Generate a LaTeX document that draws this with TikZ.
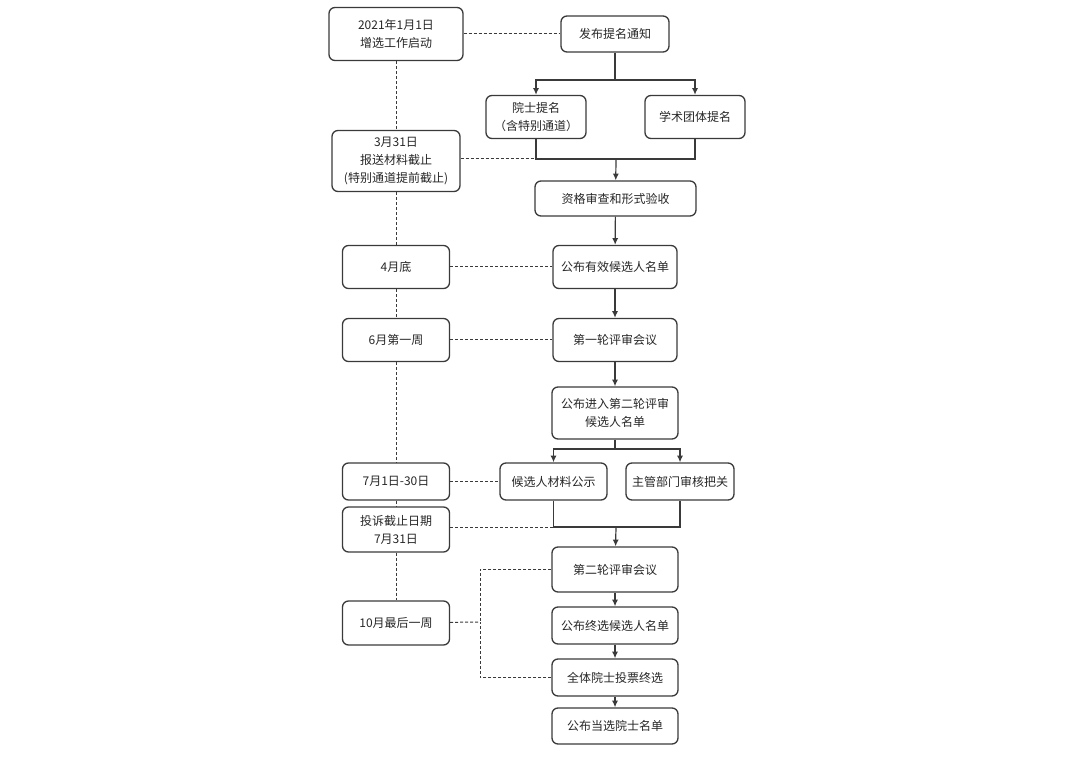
\documentclass[tikz,border=0pt]{standalone}
\usepackage{fontspec}
\setmainfont{Noto Sans CJK SC}
\usetikzlibrary{arrows.meta}
\definecolor{ink}{HTML}{3A3A3A}
\tikzstyle{stage}=[draw=ink, line width=1pt, rounded corners=4.5pt, inner sep=0pt, align=center, text=black!85, font=\fontsize{9}{13.5}\selectfont]
\tikzstyle{datebox}=[stage]
\tikzstyle{link}=[dash pattern=on 2.25pt off 1.5pt, line width=.75pt, draw=ink]
\tikzstyle{flow}=[line width=.9pt, draw=ink]

\begin{document}
\begin{tikzpicture}[>={Latex[length=5pt,width=4.5pt]},x=.75pt,y=-.75pt]
    \useasboundingbox (0,0) rectangle (1080,762);

    % Dates
    \draw (396,34) node[datebox,minimum width=100.5pt,minimum height=39.75pt] (start) {2021年1月1日\\增选工作启动};
    \draw (396,161) node[datebox,minimum width=96pt,minimum height=45.75pt] (deadline) {3月31日\\报送材料截止\\(特别通道提前截止)};
    \draw (396,267) node[datebox,minimum width=80.25pt,minimum height=32.25pt] (apr) {4月底};
    \draw (396,340) node[datebox,minimum width=80.25pt,minimum height=32.25pt] (jun) {6月第一周};
    \draw (396,481.5) node[datebox,minimum width=80.25pt,minimum height=27.75pt] (jul) {7月1日-30日};
    \draw (396,529.5) node[datebox,minimum width=80.25pt,minimum height=33.75pt] (complain) {投诉截止日期\\7月31日};
    \draw (396,623) node[datebox,minimum width=80.25pt,minimum height=33pt] (oct) {10月最后一周};

    % Steps
    \draw (615,34) node[stage,minimum width=81pt,minimum height=27pt] (notice) {发布提名通知};
    \draw (536,117) node[stage,minimum width=75pt,minimum height=32.25pt] (acad) {院士提名\\（含特别通道）};
    \draw (695,117) node[stage,minimum width=75pt,minimum height=32.25pt] (society) {学术团体提名};
    \draw (615.5,198.5) node[stage,minimum width=120.75pt,minimum height=26.25pt] (check) {资格审查和形式验收};
    \draw (615,267) node[stage,minimum width=93pt,minimum height=32.25pt] (valid) {公布有效候选人名单};
    \draw (615,340) node[stage,minimum width=93pt,minimum height=32.25pt] (first) {第一轮评审会议};
    \draw (615,413) node[stage,minimum width=94.5pt,minimum height=39pt] (enter) {公布进入第二轮评审\\候选人名单};
    \draw (553.5,481.5) node[stage,minimum width=80.25pt,minimum height=27.75pt] (public) {候选人材料公示};
    \draw (680,481.5) node[stage,minimum width=81pt,minimum height=27.75pt] (review) {主管部门审核把关};
    \draw (615,569.5) node[stage,minimum width=94.5pt,minimum height=33.75pt] (second) {第二轮评审会议};
    \draw (615,625.5) node[stage,minimum width=94.5pt,minimum height=27.75pt] (final) {公布终选候选人名单};
    \draw (615,677.5) node[stage,minimum width=94.5pt,minimum height=27.75pt] (vote) {全体院士投票终选};
    \draw (615,726) node[stage,minimum width=94.5pt,minimum height=27pt] (elected) {公布当选院士名单};

    % Junctions
    \coordinate (split1) at (615,80);
    \coordinate (merge1) at (616,159);
    \coordinate (split2) at (615,449);
    \coordinate (merge2) at (616,527);
    \coordinate (fork) at (480,622);

    % Flow
    \draw[flow] (notice) -- (split1);
    \draw[flow,->] (split1) -| (acad);
    \draw[flow,->] (split1) -| (society);
    \draw[flow] (acad) |- (merge1) -| (society);
    \draw[flow,->] (merge1) -- (check);
    \draw[flow,->] (check) -- (valid);
    \draw[flow,->] (valid) -- (first);
    \draw[flow,->] (first) -- (enter);
    \draw[flow] (enter) -- (split2);
    \draw[flow,->] (split2) -| (public);
    \draw[flow,->] (split2) -| (review);
    \draw[flow] (public) |- (merge2) -| (review);
    \draw[flow,->] (merge2) -- (second);
    \draw[flow,->] (second) -- (final);
    \draw[flow,->] (final) -- (vote);
    \draw[flow,->] (vote) -- (elected);

    % Timeline
    \draw[link] (start) -- (deadline) -- (apr) -- (jun) -- (jul) -- (complain) -- (oct);
    \draw[link] (start) -- (notice);
    \draw[link] (deadline.east |- merge1) -- (merge1 -| acad);
    \draw[link] (apr) -- (valid);
    \draw[link] (jun) -- (first);
    \draw[link] (jul) -- (public);
    \draw[link] (complain.east |- merge2) -- (merge2 -| public);
    \draw[link] (oct) -- (fork);
    \draw[link] (second) -| (fork);
    \draw[link] (vote) -| (fork);

\end{tikzpicture}
\end{document}
